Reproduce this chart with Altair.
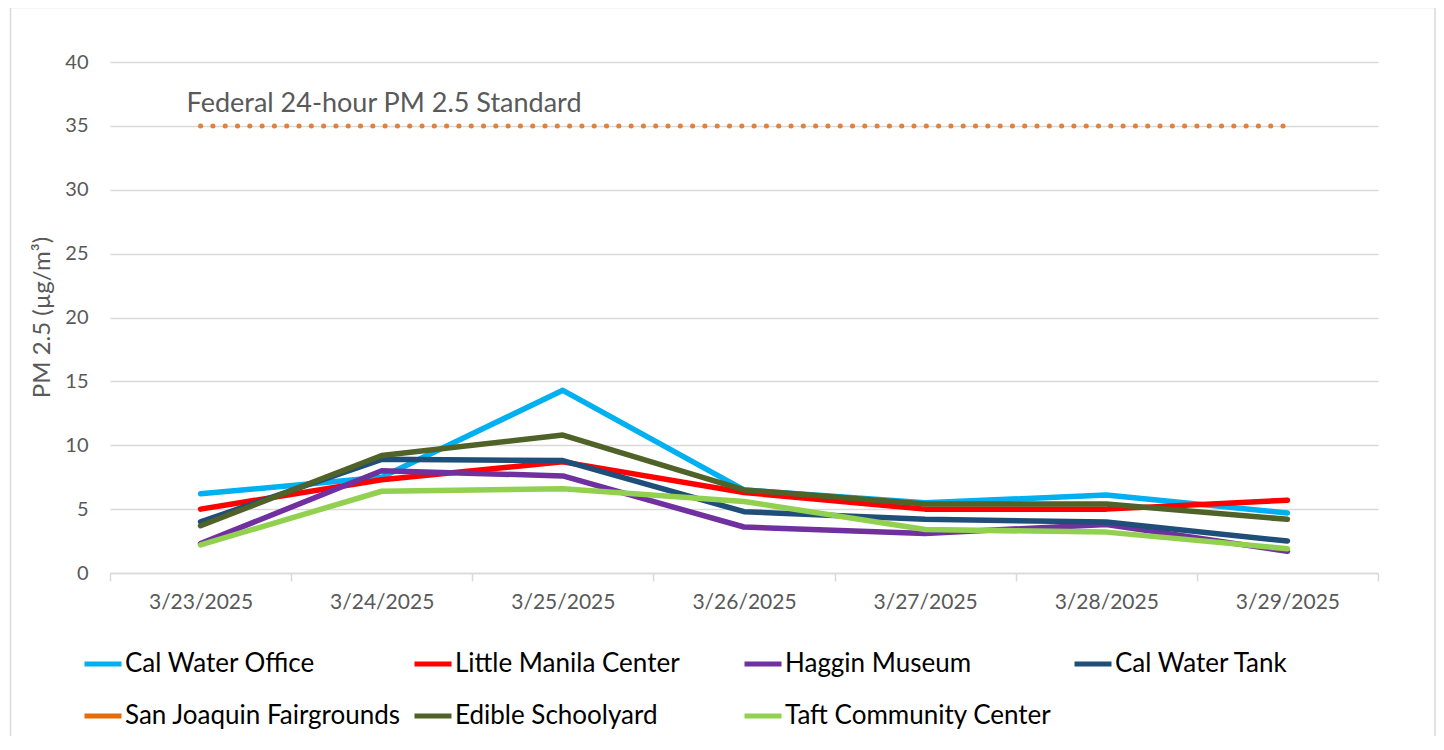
import altair as alt
import pandas as pd

dates = ["3/23/2025", "3/24/2025", "3/25/2025", "3/26/2025", "3/27/2025", "3/28/2025", "3/29/2025"]

sites = ["Cal Water Office", "Little Manila Center", "Haggin Museum", "Cal Water Tank",
         "San Joaquin Fairgrounds", "Edible Schoolyard", "Taft Community Center"]
site_colors = ["#00B0F0", "#FF0000", "#7030A0", "#1F4E79", "#E46C0A", "#4F6228", "#92D050"]

cal_water_office = [6.2, 7.5, 14.3, 6.5, 5.5, 6.1, 4.7]
little_manila_center = [5.0, 7.3, 8.7, 6.3, 5.0, 5.0, 5.7]
haggin_museum = [2.3, 8.0, 7.6, 3.6, 3.1, 3.8, 1.7]
cal_water_tank = [4.0, 8.9, 8.8, 4.8, 4.2, 4.0, 2.5]
san_joaquin_fairgrounds = []  # no readings shown
edible_schoolyard = [3.7, 9.2, 10.8, 6.5, 5.4, 5.4, 4.2]
taft_community_center = [2.2, 6.4, 6.6, 5.6, 3.4, 3.2, 1.9]

standard_value = 35
standard_label = "Federal 24-hour PM 2.5 Standard"

series = [cal_water_office, little_manila_center, haggin_museum, cal_water_tank,
          san_joaquin_fairgrounds, edible_schoolyard, taft_community_center]

rows = []
for name, vals in zip(sites, series):
    for d, v in zip(dates, vals):
        rows.append({"date": d, "site": name, "pm": v})
df = pd.DataFrame(rows)

df_std = pd.DataFrame({"date": dates, "pm": [standard_value] * len(dates)})
df_lbl = pd.DataFrame({"date": [dates[0]], "pm": [standard_value], "label": [standard_label]})
df_frame = pd.DataFrame({"a": [0]})

FONT = "Lato"
GRAY = "#595959"

x_enc = alt.X(
    "date:N", sort=dates,
    scale=alt.Scale(type="band", domain=dates, paddingInner=0, paddingOuter=0),
    axis=alt.Axis(title=None, labelAngle=0, domainColor="#D9D9D9", domainWidth=1.5,
                  tickColor="#D9D9D9", tickWidth=1.5, tickSize=8, tickBand="extent",
                  labelPadding=10, labelFontSize=21, labelColor=GRAY, labelFont=FONT,
                  grid=False),
)
y_enc = alt.Y(
    "pm:Q",
    scale=alt.Scale(domain=[0, 40], nice=False, zero=True),
    axis=alt.Axis(title="PM 2.5 (µg/m³)", values=list(range(0, 45, 5)), grid=True,
                  gridColor="#D9D9D9", gridWidth=1.3, domain=False, ticks=False,
                  labelPadding=22, labelFontSize=20, labelColor=GRAY, labelFont=FONT,
                  titleFont=FONT, titleFontSize=24, titleColor=GRAY, titleFontWeight="normal",
                  titleX=-68, titleY=255, titleAngle=270, titleAlign="center",
                  titleBaseline="middle"),
)

frame = alt.Chart(df_frame).mark_rect(fillOpacity=0, stroke="#D9D9D9", strokeWidth=1.5).encode(
    x=alt.value(-99.5), x2=alt.value(1325), y=alt.value(-54.5), y2=alt.value(720)
)

std_line = alt.Chart(df_std).mark_line(
    color="#E0823D", strokeDash=[0.1, 12.2], strokeWidth=5, strokeCap="round"
).encode(x=x_enc, y=y_enc)

lines = alt.Chart(df).mark_line(strokeWidth=5.5, strokeCap="round", strokeJoin="round").encode(
    x=x_enc, y=y_enc,
    color=alt.Color(
        "site:N",
        scale=alt.Scale(domain=sites, range=site_colors),
        legend=alt.Legend(title=None, orient="none", legendX=-28, legendY=581, columns=4,
                          direction="horizontal", symbolType="stroke", symbolSize=1369,
                          symbolStrokeWidth=5, labelFontSize=26, labelFont=FONT,
                          labelColor="#000000", labelOffset=1, columnPadding=3,
                          rowPadding=18, gridAlign="all", labelLimit=400, padding=0),
    ),
)

label = alt.Chart(df_lbl).mark_text(
    align="left", baseline="middle", dx=-14, dy=-22, fontSize=27, font=FONT, color=GRAY
).encode(x=x_enc, y=y_enc, text="label:N")

chart = alt.layer(frame, std_line, lines, label).properties(
    width=1268, height=511,
    autosize=alt.AutoSizeParams(type="none"),
    padding={"left": 102, "top": 54, "right": 58, "bottom": 163},
).configure_view(strokeWidth=0)

chart.save("out.html", embed_options={"renderer": "svg", "actions": False})
